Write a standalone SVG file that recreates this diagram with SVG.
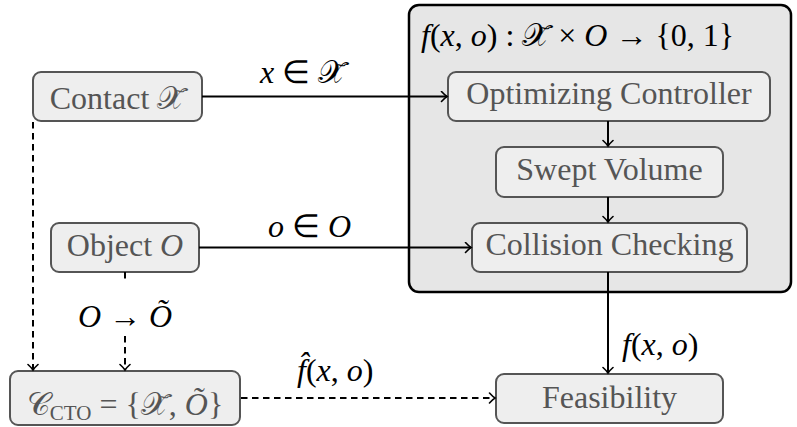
<svg xmlns="http://www.w3.org/2000/svg" width="797" height="427" viewBox="0 0 797 427">
<defs>
<marker id="to" viewBox="-7 -6 9 12" markerWidth="9" markerHeight="12" refX="0" refY="0" orient="auto" markerUnits="userSpaceOnUse">
<path d="M -5.5,-5 Q -2,-1.2 0,0 Q -2,1.2 -5.5,5" fill="none" stroke="#000" stroke-width="1.6" stroke-linecap="round"/>
</marker>
</defs>

<g id="contact">
<rect x="33" y="72" width="169" height="49" rx="8" fill="#eeeeee" stroke="#555555" stroke-width="2"/>
<text x="117.5" y="109" fill="#555555" font-family="Liberation Serif" font-size="32" text-anchor="middle">Contact <tspan font-family="DejaVu Serif">𝒳̃</tspan></text>
</g>

<g id="object">
<rect x="51" y="223" width="148" height="49" rx="8" fill="#eeeeee" stroke="#555555" stroke-width="2"/>
<text x="125" y="256" fill="#555555" font-family="Liberation Serif" font-size="32" text-anchor="middle">Object <tspan font-style="italic">O</tspan></text>
</g>

<g id="feasibility-function">
<rect x="409" y="5" width="382" height="287" rx="10" fill="#e6e6e6" stroke="#000" stroke-width="2.5"/>
<text x="421" y="46" fill="#000" font-family="Liberation Serif" font-size="32"><tspan font-style="italic">f</tspan>(<tspan font-style="italic">x</tspan>, <tspan font-style="italic">o</tspan>) : <tspan font-family="DejaVu Serif">𝒳̃</tspan> × <tspan font-style="italic">O</tspan> → {0, 1}</text>
</g>

<g id="optimizing-controller">
<rect x="448" y="72" width="322" height="49" rx="8" fill="#eeeeee" stroke="#555555" stroke-width="2"/>
<text x="609" y="104" fill="#555555" font-family="Liberation Serif" font-size="32" text-anchor="middle">Optimizing Controller</text>
</g>

<g id="swept-volume">
<rect x="496" y="147" width="227" height="50" rx="8" fill="#eeeeee" stroke="#555555" stroke-width="2"/>
<text x="609.5" y="180" fill="#555555" font-family="Liberation Serif" font-size="32" text-anchor="middle">Swept Volume</text>
</g>

<g id="collision-checking">
<rect x="472" y="223" width="275" height="49" rx="8" fill="#eeeeee" stroke="#555555" stroke-width="2"/>
<text x="609.5" y="255" fill="#555555" font-family="Liberation Serif" font-size="32" text-anchor="middle">Collision Checking</text>
</g>

<g id="cto">
<rect x="10" y="371" width="230" height="54" rx="8" fill="#eeeeee" stroke="#555555" stroke-width="2"/>
<text x="125" y="415" fill="#555555" font-family="Liberation Serif" font-size="32" text-anchor="middle"><tspan font-family="DejaVu Serif">𝒞</tspan><tspan font-size="21" dy="5">CTO</tspan><tspan dy="-5"> = {</tspan><tspan font-family="DejaVu Serif">𝒳̃</tspan>, <tspan font-style="italic">Õ</tspan>}</text>
</g>

<g id="feasibility">
<rect x="496" y="374" width="227" height="49" rx="8" fill="#eeeeee" stroke="#555555" stroke-width="2"/>
<text x="609.5" y="408" fill="#555555" font-family="Liberation Serif" font-size="32" text-anchor="middle">Feasibility</text>
</g>

<g id="connectors" stroke="#000" stroke-width="2" fill="none">
<line x1="202" y1="96.5" x2="447" y2="96.5" marker-end="url(#to)"/>
<line x1="199" y1="247.5" x2="471" y2="247.5" marker-end="url(#to)"/>
<line x1="608" y1="121" x2="608" y2="146" marker-end="url(#to)"/>
<line x1="608" y1="197" x2="608" y2="222" marker-end="url(#to)"/>
<line x1="608" y1="272" x2="608" y2="373" marker-end="url(#to)"/>
<line x1="33" y1="122" x2="33" y2="370" stroke-dasharray="6.5 4.5" marker-end="url(#to)"/>
<line x1="125" y1="272" x2="125" y2="282" stroke-dasharray="6.5 4.5"/>
<line x1="125" y1="336" x2="125" y2="370" stroke-dasharray="6.5 4.5" marker-end="url(#to)"/>
<line x1="241" y1="398" x2="495" y2="398" stroke-dasharray="6.5 4.5" marker-end="url(#to)"/>
</g>
<g id="connector-labels" fill="#000" font-family="Liberation Serif" font-size="32">
<text x="260" y="83"><tspan font-style="italic">x</tspan> ∈ <tspan font-family="DejaVu Serif">𝒳̃</tspan></text>
<text x="268" y="237"><tspan font-style="italic">o</tspan> ∈ <tspan font-style="italic">O</tspan></text>
<text x="78" y="327"><tspan font-style="italic">O</tspan> → <tspan font-style="italic">Õ</tspan></text>
<text x="297" y="381"><tspan font-style="italic">f̂</tspan>(<tspan font-style="italic">x</tspan>, <tspan font-style="italic">o</tspan>)</text>
<text x="622" y="355"><tspan font-style="italic">f</tspan>(<tspan font-style="italic">x</tspan>, <tspan font-style="italic">o</tspan>)</text>
</g>
</svg>
